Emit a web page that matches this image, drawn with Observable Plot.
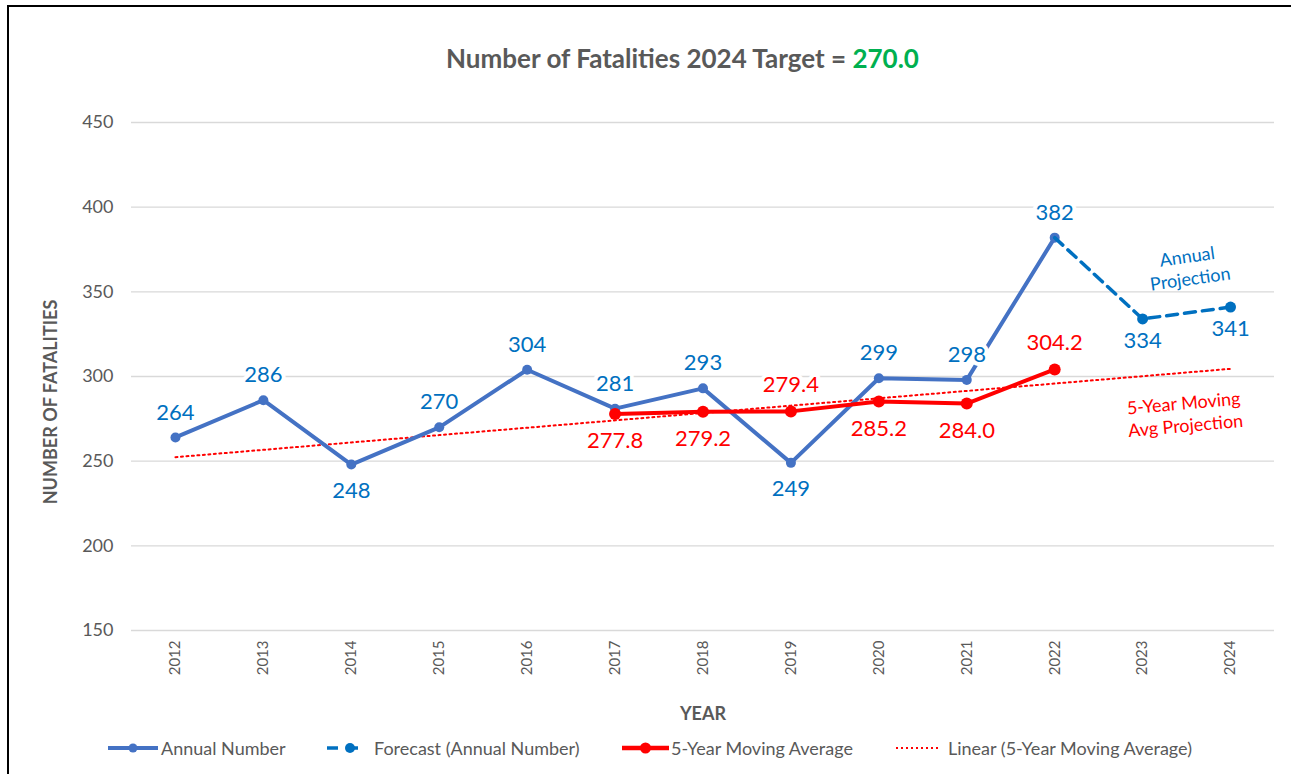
<!DOCTYPE html>
<html>
<head>
<meta charset="utf-8">
<script src="https://cdn.jsdelivr.net/npm/d3@7"></script>
<script src="https://cdn.jsdelivr.net/npm/@observablehq/plot@0.6"></script>
<style>
  html, body { margin: 0; padding: 0; background: #fff; overflow: hidden; }
  body { width: 1291px; height: 774px; position: relative; overflow: hidden; font-family: Lato, "Open Sans", sans-serif; }
  #frameL { position: absolute; left: 7px; top: 5px; width: 2px; height: 769px; background: #000; }
  #frameT { position: absolute; left: 7px; top: 5px; width: 1284px; height: 2px; background: #000; }
  #title { position: absolute; top: 42px; left: 0; width: 1365px; text-align: center; font-size: 26px; font-weight: bold; color: #595959; }
  #title .tgt { color: #00b050; }
  #ylabel { position: absolute; left: 50px; top: 402px; transform: translate(-50%, -50%) rotate(-90deg); white-space: nowrap; font-size: 18px; font-weight: bold; color: #595959; }
  #chart { position: absolute; left: 0; top: 0; }
  #legend { position: absolute; top: 735px; left: 0; width: 1291px; height: 26px; font-size: 18px; color: #595959; }
  .sw { position: absolute; top: 6px; }
  .lt { position: absolute; top: 0; line-height: 26px; white-space: nowrap; }
</style>
</head>
<body>
<div id="frameL"></div>
<div id="frameT"></div>
<div id="title">Number of Fatalities 2024 Target = <span class="tgt">270.0</span></div>
<div id="ylabel">NUMBER OF FATALITIES</div>
<div id="chart"></div>
<div id="legend"></div>
<script>
// ---- data ----
const years = ["2012","2013","2014","2015","2016","2017","2018","2019","2020","2021","2022","2023","2024"];
const annualYears = ["2012","2013","2014","2015","2016","2017","2018","2019","2020","2021","2022"];
const annualValues = [264, 286, 248, 270, 304, 281, 293, 249, 299, 298, 382];
const forecastYears = ["2022","2023","2024"];
const forecastValues = [382, 334, 341];
const maYears = ["2017","2018","2019","2020","2021","2022"];
const maValues = [277.8, 279.2, 279.4, 285.2, 284.0, 304.2];
const yTicks = [150, 200, 250, 300, 350, 400, 450];

// label placement (above / below the point)
const annualLabelSide = ["up","up","down","up","up","up","up","down","up","up","up"];
const forecastLabelSide = [null, "down", "down"];
const maLabelSide = ["down","down","up","down","down","up"];

const BLUE_LINE = "#4472c4";
const BLUE_TXT = "#0070c0";
const RED = "#ff0000";
const GREY = "#595959";

const annual = annualYears.map((y, i) => ({year: y, value: annualValues[i], side: annualLabelSide[i]}));
const forecast = forecastYears.map((y, i) => ({year: y, value: forecastValues[i], side: forecastLabelSide[i]}));
const ma = maYears.map((y, i) => ({year: y, value: maValues[i], side: maLabelSide[i]}));

// linear trendline of the moving average (least squares on year index), extended over all years
const idx = d => years.indexOf(d.year);
const mx = d3.mean(ma, idx), my = d3.mean(ma, d => d.value);
const slope = d3.sum(ma, d => (idx(d) - mx) * (d.value - my)) / d3.sum(ma, d => (idx(d) - mx) ** 2);
const trend = years.map((y, i) => ({year: y, value: my + slope * (i - mx)}));

const labelFont = {fontSize: 22, stroke: "white", strokeWidth: 8, fontFamily: "Lato, 'Open Sans', sans-serif"};

const plot = Plot.plot({
  width: 1291,
  height: 730,
  marginTop: 122,
  marginBottom: 100,
  marginLeft: 131,
  marginRight: 17,
  style: {fontFamily: "Lato, 'Open Sans', sans-serif", background: "transparent"},
  x: {type: "point", domain: years, padding: 0.5, round: false, label: null},
  y: {domain: [150, 450], label: null},
  marks: [
    Plot.gridY(yTicks, {stroke: "#d9d9d9", strokeOpacity: 1, strokeWidth: 1.3}),
    Plot.axisY({ticks: yTicks, tickSize: 0, tickPadding: 18, fontSize: 18, color: GREY, label: null}),
    Plot.axisX({tickSize: 0, tickRotate: -90, tickPadding: 10, fontSize: 15, color: GREY, label: null}),
    Plot.text(["YEAR"], {frameAnchor: "bottom", dy: 89, fontSize: 18, fontWeight: "bold", fill: GREY}),
    // trendline
    Plot.line(trend, {x: "year", y: "value", stroke: RED, strokeWidth: 2, strokeDasharray: "2,3.5"}),
    // annual
    Plot.line(annual, {x: "year", y: "value", stroke: BLUE_LINE, strokeWidth: 4}),
    Plot.dot(annual, {x: "year", y: "value", r: 5, fill: BLUE_LINE}),
    // forecast
    Plot.line(forecast, {x: "year", y: "value", stroke: BLUE_TXT, strokeWidth: 3.5, strokeDasharray: "11,7"}),
    Plot.dot(forecast.slice(1), {x: "year", y: "value", r: 5.5, fill: BLUE_TXT}),
    // moving average
    Plot.line(ma, {x: "year", y: "value", stroke: RED, strokeWidth: 4}),
    Plot.dot(ma, {x: "year", y: "value", r: 6, fill: RED}),
    // labels
    Plot.text(annual, {x: "year", y: "value", text: d => String(d.value), fill: BLUE_TXT, ...labelFont,
      filter: d => d.side === "up", dy: -25}),
    Plot.text(annual, {x: "year", y: "value", text: d => String(d.value), fill: BLUE_TXT, ...labelFont,
      filter: d => d.side === "down", dy: 26}),
    Plot.text(forecast, {x: "year", y: "value", text: d => String(d.value), fill: BLUE_TXT, ...labelFont,
      filter: d => d.side === "down", dy: 22}),
    Plot.text(ma, {x: "year", y: "value", text: d => d.value.toFixed(1), fill: RED, ...labelFont,
      filter: d => d.side === "up", dy: -26}),
    Plot.text(ma, {x: "year", y: "value", text: d => d.value.toFixed(1), fill: RED, ...labelFont,
      filter: d => d.side === "down", dy: 27}),
    // annotations
    Plot.text(["Annual\nProjection"], {x: () => "2024", y: () => 350, dx: -42, dy: -25, rotate: -8, fill: BLUE_TXT, fontSize: 18, lineHeight: 1.25}),
    Plot.text(["5-Year Moving\nAvg Projection"], {x: () => "2024", y: () => 300, dx: -46, dy: 37, rotate: -5, fill: RED, fontSize: 18, lineHeight: 1.25})
  ]
});
document.getElementById("chart").appendChild(plot);

// legend
const ns = "http://www.w3.org/2000/svg";
function el(tag, attrs, parent) {
  const e = document.createElementNS(ns, tag);
  for (const k in attrs) e.setAttribute(k, attrs[k]);
  parent.appendChild(e);
  return e;
}
const legendItems = [
  {label: "Annual Number", left: 108, sw: 50, text: 161, stroke: BLUE_LINE, width: 4, kind: "solid", dot: 4.5},
  {label: "Forecast (Annual Number)", left: 326, sw: 33, text: 374, stroke: BLUE_TXT, width: 3.5, kind: "forecast", dot: 5},
  {label: "5-Year Moving Average", left: 622, sw: 47, text: 671, stroke: RED, width: 4.5, kind: "solid", dot: 5.5},
  {label: "Linear (5-Year Moving Average)", left: 896, sw: 45, text: 948, stroke: RED, width: 2, kind: "dotted", dot: 0}
];
const leg = document.getElementById("legend");
for (const it of legendItems) {
  const s = el("svg", {class: "sw", width: it.sw, height: 14}, leg);
  s.style.left = it.left + "px";
  if (it.kind === "solid") {
    el("line", {x1: 0, x2: it.sw, y1: 7, y2: 7, stroke: it.stroke, "stroke-width": it.width}, s);
    el("circle", {cx: it.sw / 2, cy: 7, r: it.dot, fill: it.stroke}, s);
  } else if (it.kind === "forecast") {
    el("line", {x1: 1, x2: 12, y1: 7, y2: 7, stroke: it.stroke, "stroke-width": it.width}, s);
    el("line", {x1: 20, x2: 32, y1: 7, y2: 7, stroke: it.stroke, "stroke-width": it.width}, s);
    el("circle", {cx: 24, cy: 7, r: it.dot, fill: it.stroke}, s);
  } else {
    el("line", {x1: 0, x2: it.sw, y1: 7, y2: 7, stroke: it.stroke, "stroke-width": it.width, "stroke-dasharray": "2,3"}, s);
  }
  const t = document.createElement("div");
  t.className = "lt";
  t.style.left = it.text + "px";
  t.textContent = it.label;
  leg.appendChild(t);
}
</script>
</body>
</html>
